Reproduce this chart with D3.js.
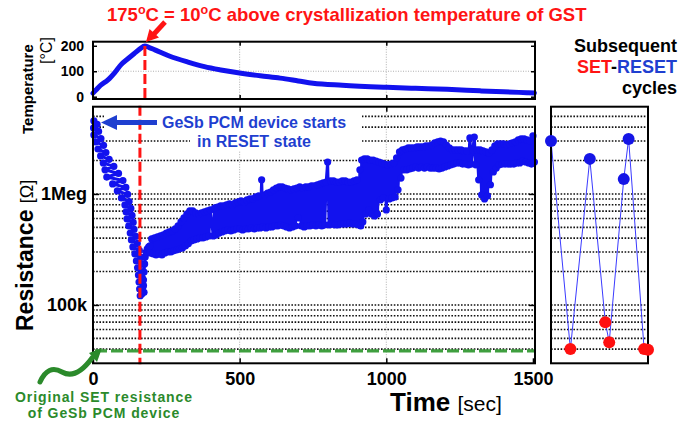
<!DOCTYPE html>
<html>
<head>
<meta charset="utf-8">
<script src="https://cdn.jsdelivr.net/npm/d3@7"></script>
<style>
  body { margin: 0; background: #fff; }
  svg { display: block; font-family: "Liberation Sans", Arial, Helvetica, sans-serif; }
</style>
</head>
<body>
<svg id="chart" width="694" height="421"></svg>
<script>
// ---- Heater temperature during the anneal: [time s, temperature °C]
const temperatureTrace = [
  [0,14],[10,26],[25,44],[51,66],[75,96],[95,125],[120,150],[143,172],[160,188],[177,199],
  [190,194],[211,184],[260,160],[324,136],[380,118],[436,105],[505,92],[570,82],[638,73],
  [700,62],[750,53],[850,45],[1002,37],[1100,33],[1207,29],[1320,23],[1400,19],[1480,16],[1505,15]
];

// ---- Device resistance read during the anneal: [time s, resistance kOhm]
const resistanceTrace = [
  // initial drop from the RESET state
  [3,4550],[14,4230],[2,3930],[19,3660],[3,3400],[27,3160],[9,2940],[36,2740],[17,2540],[44,2360],
  [26,2200],[55,2050],[35,1900],[71,1770],[41,1650],[87,1530],[47,1420],[102,1320],[67,1230],[112,1145],
  [83,1064],[118,990],[97,920],[123,855],[109,796],[129,740],[113,689],[133,640],[116,595],[137,554],
  [122,515],[140,479],[127,445],[146,414],[131,385],[151,358],[136,333],[158,310],[143,288],[163,268],
  [148,249],[166,232],[152,216],[167,200],[155,186],[169,173],[157,161],[172,150],[159,139],[174,130],
  [161,121],[167,126],[170,145],[172,168],[174,198],[176,234],[178,271],[181,300],[185,320],[190,333],
  [194,340],
  // slow recovery while cooling
  [195,294],[200,393],[205,288],[210,402],[215,282],[220,410],[225,288],[230,419],[235,282],[240,427],
  [245,294],[250,445],[255,300],[260,455],[265,300],[270,464],[275,307],[280,484],[285,313],[290,515],
  [295,320],[300,560],[305,326],[310,608],[315,340],[320,660],[325,355],[330,703],[335,377],[340,703],
  [345,385],[350,674],[355,393],[360,660],[365,402],[370,674],[375,402],[380,689],[385,410],[390,703],
  [395,419],[400,718],[410,419],[415,748],[420,427],[425,763],[430,445],[435,780],[440,455],[445,780],
  [450,464],[455,796],[460,474],[465,813],[470,464],[475,796],[480,474],[485,830],[490,484],[495,847],
  [500,484],[505,865],[510,474],[515,847],[520,484],[525,883],[530,484],[535,901],[540,494],[545,901],
  [550,484],[555,940],[560,494],[565,960],[570,494],[575,1340],[580,504],[585,980],[590,494],[595,1020],
  [600,504],[605,1040],[610,504],[615,1090],[620,515],[625,1130],[630,515],[635,1160],[640,526],[645,1160],
  [650,515],[655,1130],[660,504],[665,1110],[670,494],[675,1090],[680,504],[685,1110],[690,515],[695,1130],
  [700,608],[705,1160],[710,515],[715,1130],[720,504],[725,1160],[730,515],[735,1160],[740,515],[745,1180],
  [750,526],[755,1180],[760,515],[765,1210],[770,526],[775,1230],[780,515],[785,1260],[790,526],[795,1280],
  [800,1940],[805,526],[810,1310],[815,537],[820,1310],[825,526],[830,1280],[835,526],[840,1280],[845,537],
  [850,1310],[855,537],[860,1310],[865,537],[870,1280],[875,548],[880,1280],[885,537],[890,1310],[895,537],
  [900,1340],[905,526],[910,1650],[913,515],[916,2020],[920,560],[925,2070],[930,660],[935,2070],[940,718],
  [945,2020],[950,660],[955,2020],[960,634],[965,1980],[970,660],[975,1940],[980,883],[985,1900],[990,920],
  [995,1860],[1000,718],[1005,1830],[1010,901],[1015,1860],[1020,920],[1025,1900],[1030,940],[1035,2110],[1040,1090],
  [1045,2390],[1050,1390],[1055,2490],[1060,1650],[1065,2540],[1070,1650],[1075,2600],[1080,1680],[1085,2600],[1090,1710],
  [1095,2600],[1100,1750],[1105,2650],[1110,1710],[1115,2650],[1120,1750],[1125,2650],[1130,1710],[1135,2710],[1140,1750],
  [1145,2710],[1150,1710],[1155,2760],[1160,1710],[1165,2880],[1170,1710],[1175,2940],[1180,1680],[1185,3000],[1190,1710],
  [1195,2940],[1200,1750],[1205,2760],[1210,1790],[1215,2600],[1220,1830],[1225,2490],[1230,1860],[1235,2490],[1240,1900],
  [1245,2490],[1250,1900],[1255,2490],[1260,1860],[1265,2440],[1270,1860],[1275,2440],[1280,1830],[1285,3200],[1290,1860],
  [1295,2490],[1300,3260],[1305,1830],[1310,2490],[1315,1340],[1320,2490],[1325,980],[1330,2440],[1335,901],[1340,2390],
  [1345,960],[1350,2340],[1355,1210],[1360,2490],[1365,1580],[1370,2710],[1375,1710],[1380,2820],[1385,1830],[1390,2820],
  [1395,1860],[1400,2820],[1405,1860],[1410,2760],[1415,1860],[1420,2820],[1425,1860],[1430,2880],[1435,1860],[1440,2940],
  [1445,1900],[1450,3070],[1455,1900],[1460,3130],[1465,1980],[1470,3130],[1475,1940],[1480,3070],[1485,1900],[1490,3000],
  [1495,1860],[1500,3330],[1505,1940]
];

// ---- Subsequent SET/RESET cycling
const cycleStep  = [0, 1, 2, 2.8, 3, 3.75, 4, 4.8, 5];
const cycleKOhm  = [3000, 40, 2070, 70, 46, 1360, 3130, 40, 39.5];
const cycleState = ["RESET","SET","RESET","SET","SET","RESET","RESET","SET","SET"];

// ---- Axis ticks and reference levels
const timeTicks = [0, 500, 1000, 1500];
const timeGrid = [500, 1000];
const tempTicks = [0, 100, 200];
const tempGrid = [100];
const resTickOhm = [1e5, 1e6];
const resTickLabels = ["100k", "1Meg"];
const resGridKOhm = [40,50,60,70,80,90,100,200,300,400,500,600,700,800,900,1000,2000,3000,4000,5000];
const originalSetKOhm = 38.5;
const markerTopSec = 177;   // time of peak temperature
const markerMainSec = 160;  // resistance minimum

// ---- Layout
const L = 93, R = 535;
const topY0 = 41.7, topY1 = 99;
const mainY0 = 106.7, mainY1 = 363.3;
const cycL = 551, cycR = 648;

const BLUE = "#1212ee", RED = "#ff1414", NOTE_BLUE = "#1f3fd0", GREEN = "#2b8a2b";

const svg = d3.select("#chart");

const x = d3.scaleLinear().domain([0, 1507]).range([L, R]);
const yT = d3.scaleLinear().domain([-9, 216]).range([topY1, topY0]);
const yR = d3.scaleLog().domain([29.8e3, 6.11e6]).range([mainY1, mainY0]);
const xc = d3.scaleLinear().domain([0, 5]).range([cycL, cycR]);

// ================= Temperature panel =================
const gTop = svg.append("g");
gTop.selectAll(".vg").data(timeGrid).join("line")
  .attr("x1", d => x(d)).attr("x2", d => x(d)).attr("y1", topY0).attr("y2", topY1)
  .attr("stroke", "#999").attr("stroke-width", 0.8).attr("stroke-dasharray", "1,1.5");
gTop.selectAll(".hg").data(tempGrid).join("line")
  .attr("x1", L).attr("x2", R).attr("y1", d => yT(d)).attr("y2", d => yT(d))
  .attr("stroke", "#999").attr("stroke-width", 0.8).attr("stroke-dasharray", "1,1.5");

gTop.append("path").datum(temperatureTrace)
  .attr("fill", "none").attr("stroke", BLUE).attr("stroke-width", 5)
  .attr("stroke-linejoin", "round").attr("stroke-linecap", "round")
  .attr("d", d3.line().x(d => x(d[0])).y(d => yT(d[1])).curve(d3.curveMonotoneX));

const peak = temperatureTrace.find(d => d[0] === markerTopSec);
gTop.append("line")
  .attr("x1", x(markerTopSec)).attr("x2", x(markerTopSec))
  .attr("y1", yT(peak[1])).attr("y2", topY1 + 2)
  .attr("stroke", RED).attr("stroke-width", 3).attr("stroke-dasharray", "10,4");

function styleAxis(g, size) {
  g.attr("font-family", null).attr("font-size", size).attr("font-weight", "bold");
  g.select(".domain").remove();
  g.selectAll(".tick line").attr("stroke", "#000").attr("stroke-width", 1.5);
  g.selectAll("text").attr("fill", "#000");
}
function ticksOnly(g) {
  g.select(".domain").remove();
  g.selectAll("text").remove();
  g.selectAll(".tick line").attr("stroke", "#000").attr("stroke-width", 1.5);
}

svg.append("g").attr("transform", `translate(${L},0)`)
  .call(d3.axisLeft(yT).tickValues(tempTicks).tickSize(-4).tickPadding(9))
  .call(g => styleAxis(g, 14));
svg.append("g").attr("transform", `translate(${R},0)`)
  .call(d3.axisRight(yT).tickValues(tempTicks).tickSize(-4)).call(ticksOnly);
svg.append("g").attr("transform", `translate(0,${topY1})`)
  .call(d3.axisBottom(x).tickValues(timeGrid).tickSize(-4)).call(ticksOnly);
svg.append("g").attr("transform", `translate(0,${topY0})`)
  .call(d3.axisTop(x).tickValues(timeGrid).tickSize(-4)).call(ticksOnly);

gTop.append("rect").attr("x", L).attr("y", topY0).attr("width", R - L).attr("height", topY1 - topY0)
  .attr("fill", "none").attr("stroke", "#000").attr("stroke-width", 2);

// ================= Resistance panel =================
const gMain = svg.append("g");
gMain.selectAll(".vg").data(timeGrid).join("line")
  .attr("x1", d => x(d)).attr("x2", d => x(d)).attr("y1", mainY0).attr("y2", mainY1)
  .attr("stroke", "#999").attr("stroke-width", 0.8).attr("stroke-dasharray", "1,1.5");
gMain.selectAll(".hg").data(resGridKOhm).join("line")
  .attr("x1", L).attr("x2", R).attr("y1", d => yR(d * 1e3)).attr("y2", d => yR(d * 1e3))
  .attr("stroke", "#111").attr("stroke-width", 1.6).attr("stroke-dasharray", "1.6,1.6");

// white backing behind the annotation
gMain.append("rect").attr("x", 104).attr("y", 110).attr("width", 258).attr("height", 22).attr("fill", "#fff");
gMain.append("rect").attr("x", 190).attr("y", 131).attr("width", 172).attr("height", 20).attr("fill", "#fff");

gMain.append("path").datum(resistanceTrace)
  .attr("fill", "none").attr("stroke", BLUE).attr("stroke-width", 3).attr("stroke-linejoin", "round")
  .attr("d", d3.line().x(d => x(d[0])).y(d => yR(d[1] * 1e3)));
gMain.selectAll(".pt").data(resistanceTrace).join("circle")
  .attr("cx", d => x(d[0])).attr("cy", d => yR(d[1] * 1e3)).attr("r", 3.6).attr("fill", BLUE);

// original SET level
gMain.append("line")
  .attr("x1", L + 2).attr("x2", R).attr("y1", yR(originalSetKOhm * 1e3)).attr("y2", yR(originalSetKOhm * 1e3))
  .attr("stroke", "#3f9f3f").attr("stroke-width", 3.2).attr("stroke-dasharray", "12,4");

// crystallization marker
gMain.append("line")
  .attr("x1", x(markerMainSec)).attr("x2", x(markerMainSec)).attr("y1", mainY0 - 1).attr("y2", mainY1 + 1)
  .attr("stroke", RED).attr("stroke-width", 3).attr("stroke-dasharray", "10,4");

svg.append("g").attr("transform", `translate(0,${mainY1})`)
  .call(d3.axisBottom(x).tickValues(timeTicks).tickFormat(d3.format("d")).tickSize(-5).tickPadding(9))
  .call(g => styleAxis(g, 18));
svg.append("g").attr("transform", `translate(0,${mainY0})`)
  .call(d3.axisTop(x).tickValues(timeGrid).tickSize(-5)).call(ticksOnly);
svg.append("g").attr("transform", `translate(${L},0)`)
  .call(d3.axisLeft(yR).tickValues(resTickOhm).tickFormat((d, i) => resTickLabels[i]).tickSize(-6).tickPadding(6))
  .call(g => styleAxis(g, 18));
svg.append("g").attr("transform", `translate(${R},0)`)
  .call(d3.axisRight(yR).tickValues(resTickOhm).tickSize(-6)).call(ticksOnly);

gMain.append("rect").attr("x", L).attr("y", mainY0).attr("width", R - L).attr("height", mainY1 - mainY0)
  .attr("fill", "none").attr("stroke", "#000").attr("stroke-width", 2);

// ================= Cycling panel =================
const gCyc = svg.append("g");
gCyc.selectAll(".hg").data(resGridKOhm).join("line")
  .attr("x1", cycL).attr("x2", cycR).attr("y1", d => yR(d * 1e3)).attr("y2", d => yR(d * 1e3))
  .attr("stroke", "#111").attr("stroke-width", 1.6).attr("stroke-dasharray", "1.6,1.6");
const cycles = cycleStep.map((s, i) => ({ s, r: cycleKOhm[i] * 1e3, state: cycleState[i] }));
gCyc.append("path").datum(cycles)
  .attr("fill", "none").attr("stroke", "#3a3aff").attr("stroke-width", 1)
  .attr("d", d3.line().x(d => xc(d.s)).y(d => yR(d.r)));
gCyc.append("rect").attr("x", cycL).attr("y", mainY0).attr("width", cycR - cycL).attr("height", mainY1 - mainY0)
  .attr("fill", "none").attr("stroke", "#000").attr("stroke-width", 2);
gCyc.selectAll(".cp").data(cycles).join("circle")
  .attr("cx", d => xc(d.s)).attr("cy", d => yR(d.r)).attr("r", 6)
  .attr("fill", d => d.state === "SET" ? "#ff1010" : "#1515e6");

// ================= Text and annotations =================
// title
const title = svg.append("text").attr("x", 107).attr("y", 21)
  .attr("font-size", 18.5).attr("font-weight", "bold").attr("fill", RED);
title.append("tspan").text("175");
title.append("tspan").attr("font-size", 12.5).attr("dy", -7).text("o");
title.append("tspan").attr("dy", 7).text("C = 10");
title.append("tspan").attr("font-size", 12.5).attr("dy", -7).text("o");
title.append("tspan").attr("dy", 7).text("C above crystallization temperature of GST");

// red arrow onto the peak
svg.append("line").attr("x1", 165).attr("y1", 22).attr("x2", 154).attr("y2", 34)
  .attr("stroke", RED).attr("stroke-width", 5);
svg.append("path").attr("d", "M146,42 L149.5,29 L159,37.5 Z").attr("fill", RED);

// cycling legend
const side = svg.append("g").attr("font-size", 18).attr("font-weight", "bold").attr("text-anchor", "end");
side.append("text").attr("x", 677).attr("y", 52).attr("fill", "#000").text("Subsequent");
const sr = side.append("text").attr("x", 677).attr("y", 73);
sr.append("tspan").attr("fill", RED).text("SET");
sr.append("tspan").attr("fill", "#000").text("-");
sr.append("tspan").attr("fill", NOTE_BLUE).text("RESET");
side.append("text").attr("x", 677).attr("y", 94).attr("fill", "#000").text("cycles");

// axis titles
svg.append("text").attr("transform", "translate(33,134) rotate(-90)")
  .attr("font-size", 15).attr("font-weight", "bold").attr("fill", "#000").text("Temperature");
svg.append("text").attr("transform", "translate(52,64) rotate(-90)")
  .attr("font-size", 16).attr("fill", "#000").text("[°C]");
const rl = svg.append("text").attr("transform", "translate(33,331) rotate(-90)").attr("fill", "#000");
rl.append("tspan").attr("font-size", 23).attr("font-weight", "bold").text("Resistance ");
rl.append("tspan").attr("font-size", 18).text("[Ω]");
const tl = svg.append("text").attr("x", 390).attr("y", 411).attr("fill", "#000");
tl.append("tspan").attr("font-size", 26).attr("font-weight", "bold").text("Time ");
tl.append("tspan").attr("font-size", 21).text("[sec]");

// RESET-state note and arrow
const note = svg.append("g").attr("font-size", 16).attr("font-weight", "bold")
  .attr("fill", NOTE_BLUE).attr("text-anchor", "middle");
note.append("text").attr("x", 254).attr("y", 128).text("GeSb PCM device starts");
note.append("text").attr("x", 254).attr("y", 147).text("in RESET state");
svg.append("line").attr("x1", 157).attr("y1", 122.5).attr("x2", 112).attr("y2", 122.5)
  .attr("stroke", NOTE_BLUE).attr("stroke-width", 5);
svg.append("path").attr("d", "M101,122.5 L117,115 L117,130 Z").attr("fill", NOTE_BLUE);

// original SET note and wavy arrow
const gn = svg.append("g").attr("font-size", 14).attr("font-weight", "bold")
  .attr("letter-spacing", 0.9).attr("fill", GREEN).attr("text-anchor", "middle");
gn.append("text").attr("x", 104).attr("y", 402.2).text("Original SET resistance");
gn.append("text").attr("x", 104).attr("y", 417.8).text("of GeSb PCM device");
svg.append("path").attr("d", "M40,382 Q48,364 62,372 T92,358")
  .attr("fill", "none").attr("stroke", GREEN).attr("stroke-width", 5).attr("stroke-linecap", "round");
svg.append("path").attr("d", "M102,348 L89,353 L97,362 Z").attr("fill", GREEN);
</script>
</body>
</html>
